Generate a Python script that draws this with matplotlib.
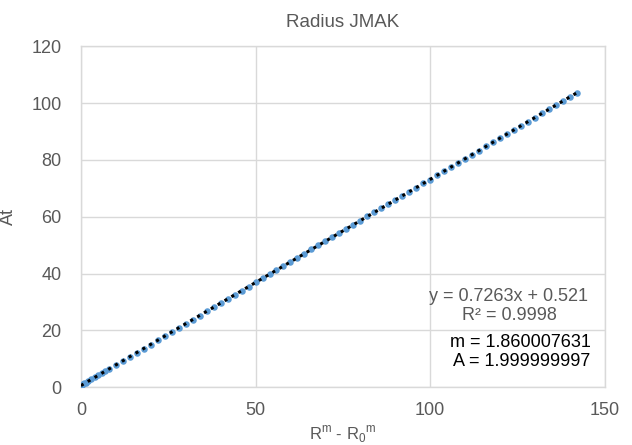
import numpy as np
import matplotlib.pyplot as plt

plt.rcParams['font.family'] = ['Liberation Sans', 'DejaVu Sans']

# data (R^m - R0^m vs At)
x_vals = [0.0, 0.2, 0.5, 0.9, 1.4, 2, 3, 4, 5, 6, 7, 8, 10, 12, 14, 16, 18, 20,
          22, 24, 26, 28, 30, 32, 34, 36, 38, 40, 42, 44, 46, 48, 50, 52, 54,
          56, 58, 60, 62, 64, 66, 68, 70, 72, 74, 76, 78, 80, 82, 84, 86, 88,
          90, 92, 94, 96, 98, 100, 102, 104, 106, 108, 110, 112, 114, 116, 118,
          120, 122, 124, 126, 128, 130, 132, 134, 136, 138, 140, 142]
y_vals = [0.6, 0.8, 1.0, 1.3, 1.6, 2.0, 2.7, 3.4, 4.2, 4.9, 5.6, 6.3, 7.8, 9.2,
          10.7, 12.1, 13.6, 15.0, 16.5, 18.0, 19.4, 20.9, 22.3, 23.8, 25.2,
          26.7, 28.1, 29.6, 31.0, 32.5, 34.0, 35.4, 36.9, 38.3, 39.8, 41.2,
          42.6, 44.1, 45.6, 47.0, 48.5, 49.9, 51.4, 52.8, 54.3, 55.7, 57.2,
          58.6, 60.1, 61.5, 63.0, 64.4, 65.9, 67.3, 68.8, 70.2, 71.7, 73.1,
          74.6, 76.0, 77.5, 78.9, 80.4, 81.9, 83.3, 84.8, 86.2, 87.7, 89.1,
          90.6, 92.0, 93.5, 94.9, 96.4, 97.8, 99.3, 100.7, 102.2, 103.7]

title = "Radius JMAK"
fit_text = "y = 0.7263x + 0.521\nR\u00b2 = 0.9998"
param_text = "m = 1.860007631\nA = 1.999999997"

grey = '#595959'
gridc = '#D9D9D9'

fig = plt.figure(figsize=(6.32, 4.45), dpi=100)
ax = fig.add_axes([0.128, 0.130, 0.829, 0.766])

x = np.array(x_vals)
y = np.array(y_vals)
ax.scatter(x, y, s=22, color='#5B9BD5', zorder=3, linewidths=0)

# linear trendline
k, b = np.polyfit(x, y, 1)
xt = np.array([x.min(), x.max()])
ax.plot(xt, k * xt + b, color='black', linestyle=(0, (1, 1.6)), linewidth=2.2,
        zorder=4)

ax.set_xlim(0, 150)
ax.set_ylim(0, 120)
ax.set_xticks([0, 50, 100, 150])
ax.set_yticks(range(0, 121, 20))
ax.grid(True, color=gridc, linewidth=1)
ax.set_axisbelow(True)
for s in ax.spines.values():
    s.set_color(gridc)
    s.set_linewidth(1)
ax.tick_params(length=0, labelsize=13, labelcolor=grey)
ax.tick_params(axis='y', pad=14)
ax.tick_params(axis='x', pad=11)

ax.set_title(title, fontsize=13.5, color=grey, pad=14)
ax.set_xlabel(r'R$^{\mathregular{m}}$ - R$_{\mathregular{0}}$$^{\mathregular{m}}$',
              fontsize=12, color=grey, labelpad=3)
ax.set_ylabel('At', fontsize=13, color=grey, labelpad=10)

ax.text(0.817, 0.238, fit_text, transform=ax.transAxes, ha='center', va='center',
        fontsize=13, color=grey, linespacing=1.2)
ax.text(0.973, 0.103, param_text, transform=ax.transAxes, ha='right', va='center',
        fontsize=13, color='black', linespacing=1.2)

fig.savefig('out.png', dpi=100)
